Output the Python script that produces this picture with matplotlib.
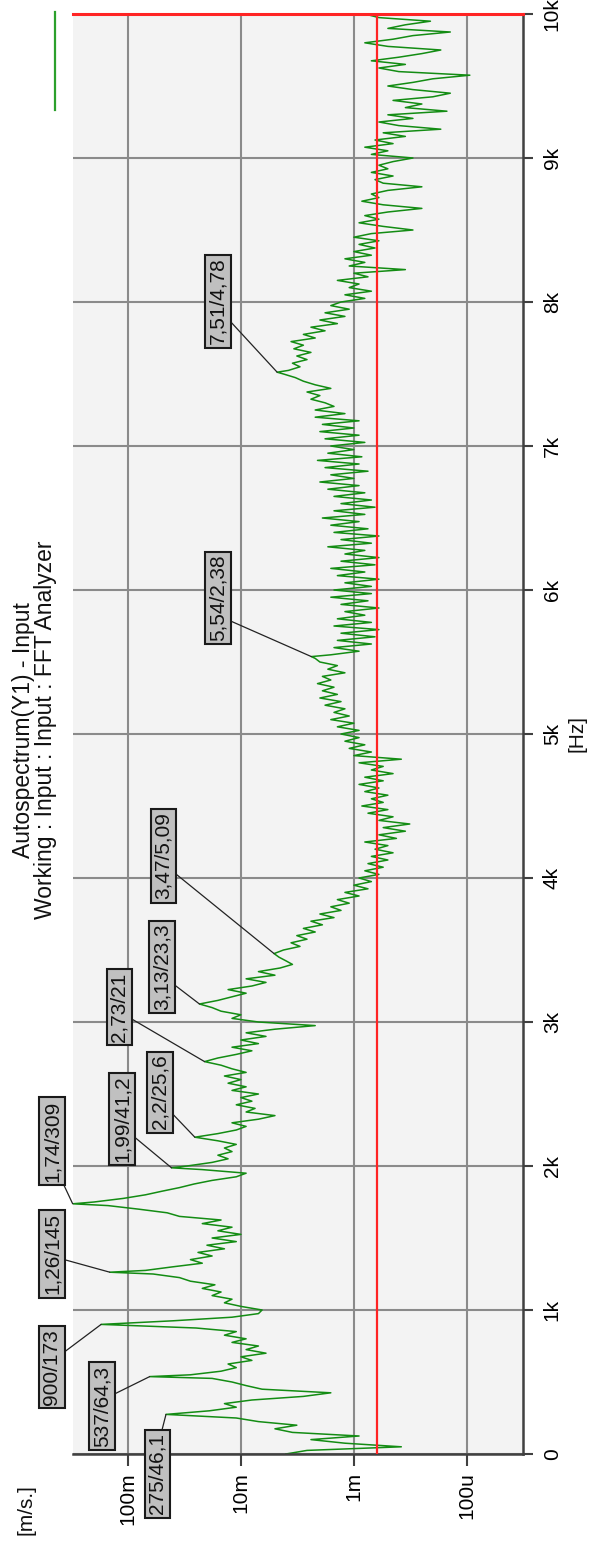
import numpy as np
import matplotlib
matplotlib.use("Agg")
import matplotlib.pyplot as plt
from matplotlib.ticker import FixedLocator, FixedFormatter, NullLocator
from matplotlib.lines import Line2D

plt.rcParams['font.family'] = ['Liberation Sans', 'DejaVu Sans']

# ---- autospectrum, 25 Hz line spacing, amplitude in mm/s -------------------
band_0k = [4.0, 2.6, 0.38, 1.2, 2.4, 0.9, 3.5, 5.0, 3.2, 7.0,
           11.0, 46.1, 19.0, 11.0, 14.0, 8.0, 2.8, 1.6, 6.5, 9.0,
           12.0, 18.0, 28.0, 15.0, 11.0, 13.0, 8.0, 10.0, 6.0, 9.0,
           7.0, 12.0, 9.0, 14.0, 11.0, 25.0, 173.0, 40.0, 12.0, 7.0]
band_1k = [6.5, 10, 14, 12, 18, 15, 22, 17, 28, 35,
           60, 70, 40, 22, 28, 18, 24, 14, 20, 11,
           18, 10, 16, 12, 22, 15, 35, 45, 80, 150,
           200, 110, 70, 50, 35, 26, 18, 11, 9, 22]
band_2k = [30, 18, 13, 16, 12, 14, 11, 16, 25.6, 16,
           11, 9, 12, 7, 5.0, 9, 7.5, 11, 8, 10,
           7, 12, 9, 13, 10, 14, 9, 12, 15, 21,
           16, 11, 8, 12, 7, 10, 6, 9, 5, 2.2]
band_3k = [7, 12, 10, 15, 18, 23.3, 16, 12, 9, 13,
           8, 6, 9, 5, 7, 4.5, 3.5, 4.0, 4.6, 5.09,
           4.2, 3.0, 3.6, 2.6, 3.2, 2.2, 2.8, 1.9, 2.4, 1.5,
           2.0, 1.3, 1.6, 1.1, 1.4, 0.9, 1.2, 0.75, 1.0, 0.7]
band_4k = [0.9, 0.6, 0.8, 0.55, 0.75, 0.5, 0.7, 0.45, 0.65, 0.5,
           0.8, 0.42, 0.6, 0.35, 0.55, 0.32, 0.6, 0.45, 0.75, 0.5,
           0.85, 0.55, 0.7, 0.5, 0.8, 0.6, 0.9, 0.55, 0.8, 0.45,
           0.7, 0.55, 0.9, 0.38, 1.0, 0.7, 1.1, 0.8, 1.2, 0.9]
band_5k = [1.3, 0.9, 1.4, 1.0, 1.6, 1.1, 1.5, 1.2, 1.8, 1.3,
           2.0, 1.4, 1.9, 1.5, 2.1, 1.6, 1.9, 1.2, 1.7, 1.4,
           2.0, 2.2, 1.6, 0.9, 1.5, 0.7, 1.4, 0.65, 1.3, 0.6,
           1.5, 0.7, 1.4, 0.8, 1.2, 0.6, 1.3, 0.75, 1.6, 0.7]
band_6k = [1.5, 0.7, 1.2, 0.6, 1.4, 0.8, 1.6, 0.65, 1.3, 0.6,
           1.2, 0.8, 1.7, 0.7, 1.3, 0.6, 1.5, 0.75, 1.6, 0.9,
           1.9, 0.8, 1.5, 0.65, 1.3, 0.7, 1.5, 0.8, 1.7, 0.9,
           2.0, 1.0, 1.6, 0.75, 1.8, 0.9, 2.1, 0.85, 1.7, 1.0]
band_7k = [1.6, 0.8, 1.8, 0.9, 2.0, 1.0, 1.9, 0.9, 2.2, 1.2,
           2.2, 1.5, 1.8, 2.4, 2.0, 2.6, 1.6, 2.2, 2.8, 3.3,
           4.2, 3.8, 3.0, 3.5, 2.6, 3.2, 2.4, 3.4, 2.8, 3.6,
           2.2, 2.8, 1.8, 2.4, 1.4, 2.0, 1.2, 1.8, 1.1, 1.6]
band_8k = [1.3, 0.8, 1.2, 0.7, 1.1, 0.9, 1.4, 0.75, 1.0, 0.35,
           1.1, 0.8, 1.2, 0.7, 1.0, 0.65, 0.9, 0.6, 1.0, 0.7,
           0.3, 0.55, 0.9, 0.6, 0.8, 0.5, 0.25, 0.55, 0.85, 0.6,
           0.7, 0.5, 0.25, 0.55, 0.65, 0.45, 0.7, 0.5, 0.6, 0.45]
band_9k = [0.3, 0.7, 0.5, 0.8, 0.45, 0.65, 0.35, 0.55, 0.17, 0.4,
           0.6, 0.3, 0.5, 0.15, 0.35, 0.25, 0.45, 0.2, 0.14, 0.3,
           0.5, 0.3, 0.2, 0.094, 0.4, 0.6, 0.35, 0.7, 0.4, 0.25,
           0.17, 0.5, 0.8, 0.45, 0.3, 0.14, 0.5, 0.35, 0.21, 0.6,
           0.8]

# ---- marked peaks (Hz, mm/s) -----------------------------------------------
peak_freqs = [275, 537.5, 900, 1262.5, 1737.5, 1987.5, 2200, 2725, 3125,
              3475, 5537.5, 7512.5]
peak_vals = [46.1, 64.3, 173, 145, 309, 41.2, 25.6, 21, 23.3, 5.09, 2.38, 4.78]
peak_labels = ["275/46,1", "537/64,3", "900/173", "1,26/145", "1,74/309",
               "1,99/41,2", "2,2/25,6", "2,73/21", "3,13/23,3", "3,47/5,09",
               "5,54/2,38", "7,51/4,78"]
# label box centres (figure px from top-left) and leader start on the box
label_pos = [(157.5, 1474), (102, 1406), (52, 1367), (52, 1254), (52, 1141),
             (122, 1119), (160, 1092), (119.5, 1007), (162, 967),
             (163.5, 856), (218, 598), (218, 301)]
leader_rel = [(0.69, 1.0), (1.0, 0.63), (1.0, 0.67), (1.0, 0.44), (1.0, 0.02),
              (1.0, 0.32), (1.0, 0.25), (1.0, 0.35), (1.0, 0.32), (1.0, 0.32),
              (1.0, 0.25), (1.0, 0.3)]

freq_ticks = [0, 1000, 2000, 3000, 4000, 5000, 6000, 7000, 8000, 9000, 10000]
freq_tick_labels = ["0", "1k", "2k", "3k", "4k", "5k", "6k", "7k", "8k", "9k", "10k"]
amp_ticks = [1e-1, 1e-2, 1e-3, 1e-4]
amp_tick_labels = ["100m", "10m", "1m", "100u"]
cursor_level = 6.3e-4

# ---- assemble spectrum -----------------------------------------------------
base = (band_0k + band_1k + band_2k + band_3k + band_4k + band_5k + band_6k
        + band_7k + band_8k + band_9k)
freqs = np.arange(len(base)) * 25.0
spec = dict(zip(freqs.tolist(), base))
for f, v in zip(peak_freqs, peak_vals):
    spec[float(f)] = v
f_all = np.array(sorted(spec))
a_all = np.array([spec[f] for f in f_all]) * 1e-3

W, H = 591, 1542
fig = plt.figure(figsize=(W / 100, H / 100), dpi=100, facecolor='white')
ax = fig.add_axes([73 / W, (H - 1454) / H, 449.7 / W, 1440 / H])
ax.set_facecolor('#f3f3f3')

ax.set_xscale('log')
ax.set_xlim(0.307, 3.2e-5)
ax.set_ylim(0, 10000)

ax.grid(True, which='major', color='#8a8a8a', lw=1.5)
ax.set_axisbelow(True)

ax.plot(a_all, f_all, color='#138c13', lw=1.1, zorder=2)
ax.axvline(cursor_level, color='#ff2424', lw=1.6, zorder=3)

ax.xaxis.set_major_locator(FixedLocator(amp_ticks))
ax.xaxis.set_major_formatter(FixedFormatter(amp_tick_labels))
ax.xaxis.set_minor_locator(NullLocator())
ax.yaxis.set_major_locator(FixedLocator(freq_ticks))
ax.yaxis.set_major_formatter(FixedFormatter(freq_tick_labels))
ax.yaxis.tick_right()

ax.tick_params(axis='x', direction='out', length=8.5, width=1.5, color='#404040',
               pad=4.5, labelsize=15, labelrotation=90)
ax.tick_params(axis='y', direction='out', length=7.5, width=1.5, color='#404040',
               pad=7, labelsize=15, labelrotation=90, right=True, left=False,
               labelright=True, labelleft=False)
for lab in ax.get_yticklabels():
    lab.set_va('center')

ax.spines['left'].set_visible(False)
ax.spines['top'].set_color('#ff2424')
ax.spines['top'].set_linewidth(2.2)
for s in ('right', 'bottom'):
    ax.spines[s].set_color('#404040')
    ax.spines[s].set_linewidth(1.8)

for f, v, txt, (cx, cy), rel in zip(peak_freqs, peak_vals, peak_labels,
                                    label_pos, leader_rel):
    ax.annotate(txt, xy=(v * 1e-3, f), xycoords='data',
                xytext=(cx, H - cy), textcoords='figure pixels',
                rotation=90, ha='center', va='center', fontsize=15,
                color='#111111', annotation_clip=False, zorder=5,
                bbox=dict(boxstyle='square,pad=0.15', fc='#c0c0c0',
                          ec='#1a1a1a', lw=1.5),
                arrowprops=dict(arrowstyle='-', color='#222222', lw=0.9,
                                shrinkA=0, shrinkB=0, relpos=rel))

# titles, units and legend stroke
fig.text(24 / W, 1 - 730 / H, "Autospectrum(Y1) - Input", rotation=90,
         ha='center', va='center', fontsize=16.5, color='#111111')
fig.text(46 / W, 1 - 730 / H, "Working : Input : Input : FFT Analyzer",
         rotation=90, ha='center', va='center', fontsize=16.5, color='#111111')
fig.text(577 / W, 1 - 733 / H, "[Hz]", rotation=90, ha='center', va='center',
         fontsize=15, color='#111111')
fig.text(26 / W, 1 - 1510 / H, "[m/s.]", rotation=90, ha='center', va='center',
         fontsize=15, color='#111111')
fig.add_artist(Line2D([55 / W, 55 / W], [1 - 12 / H, 1 - 110 / H],
                      transform=fig.transFigure, color='#2ca02c', lw=1.6))

fig.savefig("out.png", dpi=100, facecolor='white')
